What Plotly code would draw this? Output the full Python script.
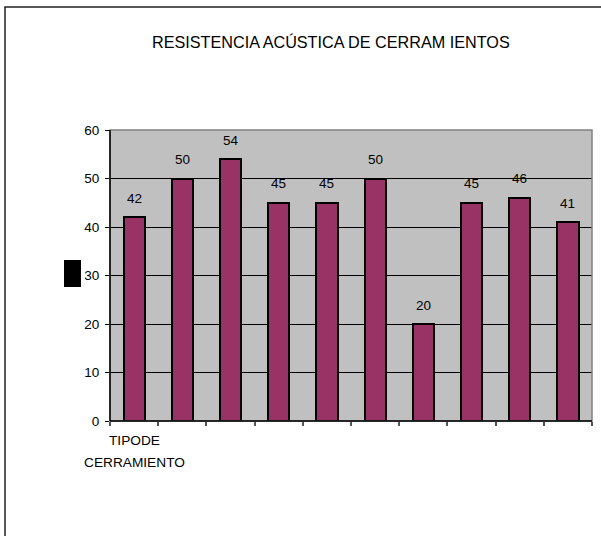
import plotly.graph_objects as go

title_text = "RESISTENCIA ACÚSTICA DE CERRAM IENTOS"
values = [42, 50, 54, 45, 45, 50, 20, 45, 46, 41]
y_ticks = [0, 10, 20, 30, 40, 50, 60]
x_label_lines = ["TIPODE", "CERRAMIENTO"]

n = len(values)
xs = list(range(n))
FONT = "Liberation Sans, Arial, sans-serif"

# plot area in pixels
W, H = 601, 536
L, R, T, B = 110, 592, 130, 421
pw, ph = R - L, B - T

def px_x(p):
    return (p - L) / pw

def px_y(p):
    return (B - p) / ph

fig = go.Figure()
fig.add_trace(go.Bar(
    x=xs, y=values, width=0.44,
    marker=dict(color="#993366", line=dict(color="black", width=2)),
    hoverinfo="skip",
))

annotations = []
for x, v in zip(xs, values):
    annotations.append(dict(
        x=x, y=v, xref="x", yref="y", text=str(v), showarrow=False,
        yanchor="middle", yshift=19,
        font=dict(family=FONT, size=13.5, color="black"),
    ))
for i, (line, ypx) in enumerate(zip(x_label_lines, [440, 462])):
    annotations.append(dict(
        x=0, y=px_y(ypx), xref="x", yref="paper", text=line, showarrow=False,
        xanchor="center", yanchor="middle",
        font=dict(family=FONT, size=13.7, color="black"),
    ))
annotations.append(dict(
    x=px_x(331), y=px_y(42), xref="paper", yref="paper", text=title_text,
    showarrow=False, xanchor="center", yanchor="middle",
    font=dict(family=FONT, size=16.2, color="black"),
))

shapes = [
    # gray plot border
    dict(type="rect", xref="paper", yref="paper", x0=0, x1=1, y0=0, y1=1,
         line=dict(color="#808080", width=1.5), layer="above"),
    # left and bottom axes black
    dict(type="line", xref="paper", yref="paper", x0=0, x1=0, y0=0, y1=1,
         line=dict(color="black", width=1.5), layer="above"),
    dict(type="line", xref="paper", yref="paper", x0=0, x1=1, y0=0, y1=0,
         line=dict(color="black", width=1.5), layer="above"),
    # outer chart border
    dict(type="rect", xref="paper", yref="paper",
         x0=px_x(5), x1=px_x(640), y0=px_y(580), y1=px_y(7),
         line=dict(color="#222222", width=1.5)),
    # black box (y-axis title artifact)
    dict(type="rect", xref="paper", yref="paper",
         x0=px_x(64), x1=px_x(81), y0=px_y(287), y1=px_y(260),
         fillcolor="black", line=dict(width=0)),
]

fig.update_layout(
    width=W, height=H,
    margin=dict(l=L, r=W - R, t=T, b=H - B),
    paper_bgcolor="white", plot_bgcolor="#C0C0C0",
    showlegend=False,
    annotations=annotations, shapes=shapes,
    font=dict(family=FONT, size=13, color="black"),
    bargap=0,
)
fig.update_xaxes(
    range=[-0.5, n - 0.5],
    tickvals=[i - 0.5 for i in range(n + 1)],
    ticktext=[""] * (n + 1),
    ticks="outside", ticklen=4, tickcolor="#555555", tickwidth=1.5,
    showgrid=False, zeroline=False, showline=False, fixedrange=True,
)
fig.update_yaxes(
    range=[0, 60], tickvals=y_ticks,
    ticks="outside", ticklen=4, tickcolor="black", tickwidth=1,
    showgrid=True, gridcolor="black", gridwidth=1,
    zeroline=False, showline=False, ticklabelstandoff=3,
    tickfont=dict(family=FONT, size=13.5, color="black"),
)

fig.write_html("out.html")
